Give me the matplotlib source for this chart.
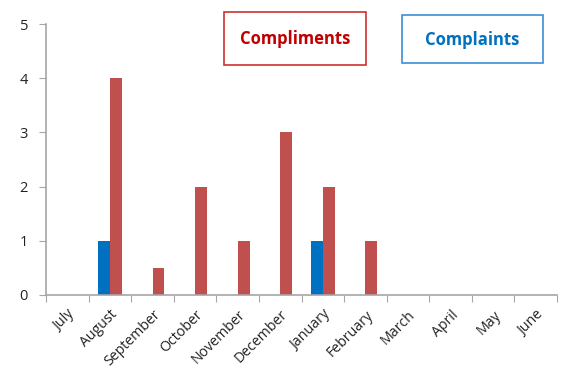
import numpy as np
import matplotlib.pyplot as plt
from matplotlib.patches import Rectangle

months = ['July', 'August', 'September', 'October', 'November', 'December',
          'January', 'February', 'March', 'April', 'May', 'June']
complaints = [0, 1, 0, 0, 0, 0, 1, 0, 0, 0, 0, 0]
compliments = [0, 4, 0.5, 2, 1, 3, 2, 1, 0, 0, 0, 0]

plt.rcParams['font.family'] = ['Open Sans', 'DejaVu Sans']

fig = plt.figure(figsize=(5.69, 3.70), dpi=100)
ax = fig.add_axes([0.081, 0.203, 0.898, 0.732])

x = np.arange(len(months))
w = 0.28
ax.bar(x - w / 2, complaints, width=w, color='#0070C0')
ax.bar(x + w / 2, compliments, width=w, color='#C0504D')

ax.set_xlim(-0.5, len(months) - 0.5)
ax.set_ylim(0, 5)
ax.set_yticks(range(6))
ax.set_xticks(np.arange(len(months) + 1) - 0.5, minor=False)
ax.set_xticklabels([])
ax.set_xticks(x, minor=True)
ax.set_xticklabels(months, minor=True, rotation=45, ha='right',
                   rotation_mode='anchor', fontsize=10.2, color='#222222')
ax.tick_params(axis='x', which='minor', length=0, pad=9)
ax.tick_params(axis='x', which='major', length=5, color='#a6a6a6', direction='out')
ax.tick_params(axis='y', length=5, color='#a6a6a6', labelsize=10.5, labelcolor='#222222', pad=8)

for s in ['top', 'right']:
    ax.spines[s].set_visible(False)
for s in ['left', 'bottom']:
    ax.spines[s].set_color('#a6a6a6')
    ax.spines[s].set_linewidth(1.2)

# the two "legend" boxes
fig.patches.append(Rectangle((0.3937, 0.8243), 0.2496, 0.1432, transform=fig.transFigure,
                             fc='white', ec='#D03030', lw=1.2))
fig.patches.append(Rectangle((0.7065, 0.8297), 0.2478, 0.1297, transform=fig.transFigure,
                             fc='white', ec='#3A8FD8', lw=1.2))
fig.text(0.518, 0.895, 'Compliments', color='#C00000', fontsize=12, fontweight='bold',
         ha='center', va='center')
fig.text(0.8304, 0.893, 'Complaints', color='#0070C0', fontsize=12, fontweight='bold',
         ha='center', va='center')

fig.savefig('out.png', dpi=100)
